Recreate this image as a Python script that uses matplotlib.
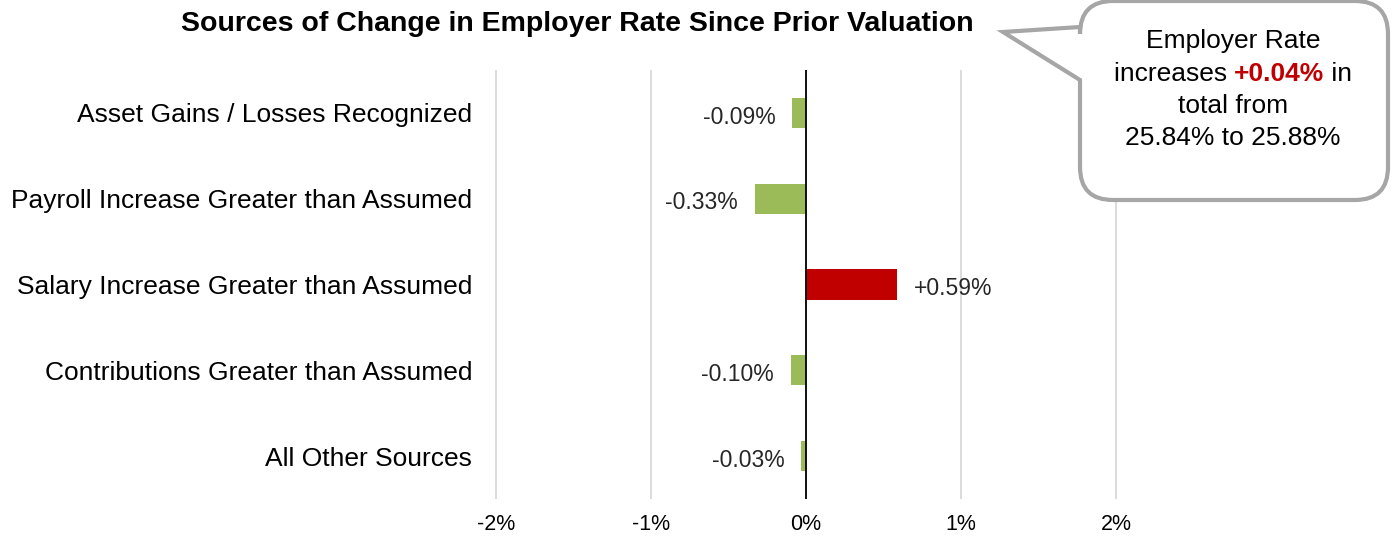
import numpy as np
import matplotlib
matplotlib.use("Agg")
import matplotlib.pyplot as plt
from matplotlib.path import Path
from matplotlib.patches import PathPatch

plt.rcParams['font.family'] = ['Liberation Sans', 'DejaVu Sans']

# data
sources = ['Asset Gains / Losses Recognized',
           'Payroll Increase Greater than Assumed',
           'Salary Increase Greater than Assumed',
           'Contributions Greater than Assumed',
           'All Other Sources']
change = [-0.09, -0.33, 0.59, -0.10, -0.03]
ticks = [-2, -1, 0, 1, 2]
rate_before = 25.84
rate_after = 25.88

W, H = 1393, 537
fig = plt.figure(figsize=(W / 100, H / 100), dpi=100)

def fx(px):
    return px / W

def fy(py):
    return 1 - py / H

# axes: 155 px per 1%, zero at x=806
ppu = 155.0
x0, x1 = -2.1, 2.1
ax = fig.add_axes([fx(806 + x0 * ppu), fy(499), (x1 - x0) * ppu / W, (499 - 70) / H])
ax.set_xlim(x0, x1)
ax.set_ylim(len(sources) - 0.5, -0.5)

green = '#9BBB59'
red = '#C00000'
cols = [red if v > 0 else green for v in change]
ypos = np.arange(len(sources))
ax.barh(ypos, change, height=0.35, color=cols, zorder=3)

ax.set_xticks(ticks)
ax.set_xticklabels([f'{t}%' for t in ticks], fontsize=15.5)
ax.set_yticks(ypos)
ax.set_yticklabels(sources, fontsize=19)
ax.tick_params(axis='both', length=0)
ax.tick_params(axis='y', pad=6)
ax.tick_params(axis='x', pad=11)
ax.grid(axis='x', color='#D9D9D9', linewidth=1.3, zorder=0)
for s in ax.spines.values():
    s.set_visible(False)
ax.axvline(0, color='black', linewidth=1.3, zorder=4)

for y, v in zip(ypos, change):
    lab = f'{v:+.2f}%'
    if v < 0:
        ax.annotate(lab, (v, y), xytext=(-12, -3), textcoords='offset points',
                    ha='right', va='center', fontsize=16.5, color='#262626')
    else:
        ax.annotate(lab, (v, y), xytext=(12, -3), textcoords='offset points',
                    ha='left', va='center', fontsize=16.5, color='#262626')

fig.text(fx(577), fy(24), 'Sources of Change in Employer Rate Since Prior Valuation',
         ha='center', va='center', fontsize=20.5, fontweight='bold')

# callout bubble with a tail pointing at the title
bl, br, bt, bb, r = 1080, 1388, 1, 200, 33
tip = (1003, 32)
pts = [(bl, 27), tip, (bl, 80), (bl, bb - r), (bl, bb), (bl + r, bb),
       (br - r, bb), (br, bb), (br, bb - r), (br, bt + r), (br, bt), (br - r, bt),
       (bl + r, bt), (bl, bt), (bl, bt + r), (bl, 27)]
codes = [Path.MOVETO, Path.LINETO, Path.LINETO, Path.LINETO, Path.CURVE3, Path.CURVE3,
         Path.LINETO, Path.CURVE3, Path.CURVE3, Path.LINETO, Path.CURVE3, Path.CURVE3,
         Path.LINETO, Path.CURVE3, Path.CURVE3, Path.CLOSEPOLY]
path = Path([(fx(a), fy(b)) for a, b in pts], codes)
fig.patches.append(PathPatch(path, transform=fig.transFigure, facecolor='white',
                             edgecolor='#A6A6A6', linewidth=3, zorder=10))

cx = 1233
fs = 19
fig.text(fx(cx), fy(41), 'Employer Rate', ha='center', va='center', fontsize=fs, zorder=11)
fig.text(fx(cx), fy(106), 'total from', ha='center', va='center', fontsize=fs, zorder=11)
fig.text(fx(cx), fy(138), f'{rate_before:.2f}% to {rate_after:.2f}%', ha='center',
         va='center', fontsize=fs, zorder=11)

# middle line has a red bold part, so lay the pieces out by hand
parts = [('increases ', 'black', 'normal'),
         (f'{rate_after - rate_before:+.2f}%', red, 'bold'),
         (' in', 'black', 'normal')]
texts = [fig.text(0, fy(74), p, color=c, fontweight=w, fontsize=fs, ha='left',
                  va='center', zorder=11) for p, c, w in parts]
fig.canvas.draw()
rend = fig.canvas.get_renderer()
widths = [t.get_window_extent(rend).width for t in texts]
x = cx - sum(widths) / 2
for t, w in zip(texts, widths):
    t.set_x(fx(x))
    x += w

fig.savefig('out.png', dpi=100)
